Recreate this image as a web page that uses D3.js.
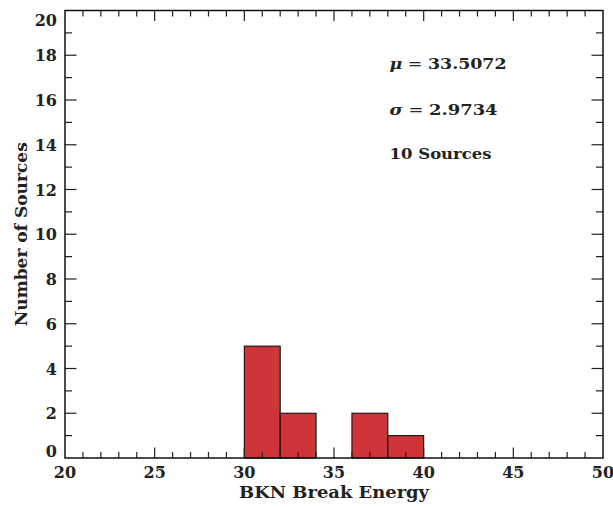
<!DOCTYPE html>
<html>
<head>
<meta charset="utf-8">
<script src="https://cdn.jsdelivr.net/npm/d3@7"></script>
<style>
  html, body { margin: 0; padding: 0; background: #fff; }
  svg { display: block; }
  text { font-family: "DejaVu Serif", "Liberation Serif", serif; font-weight: bold; fill: #222; }
</style>
</head>
<body>
<svg id="chart" width="613" height="507"></svg>
<script>
// Histogram bins of break energy: [start, end) and count
const binStarts = [30, 32, 34, 36, 38];
const binEnds   = [32, 34, 36, 38, 40];
const counts    = [5, 2, 0, 2, 1];

const xMajorTicks = [20, 25, 30, 35, 40, 45, 50];
const yMajorTicks = [0, 2, 4, 6, 8, 10, 12, 14, 16, 18, 20];

const statMean = "33.5072";
const statSigma = "2.9734";
const statCount = "10 Sources";

const W = 613, H = 507;
const margin = { left: 65, right: 10, top: 10.5, bottom: 49 };
const svg = d3.select("#chart");

const x = d3.scaleLinear().domain([20, 50]).range([margin.left, W - margin.right]);
const y = d3.scaleLinear().domain([0, 20]).range([H - margin.bottom, margin.top]);

// bars
svg.append("g").selectAll("rect")
  .data(counts.map((c, i) => ({ x0: binStarts[i], x1: binEnds[i], c })).filter(d => d.c > 0))
  .join("rect")
  .attr("x", d => x(d.x0))
  .attr("y", d => y(d.c))
  .attr("width", d => x(d.x1) - x(d.x0))
  .attr("height", d => y(0) - y(d.c))
  .attr("fill", "#cf3438")
  .attr("stroke", "#111")
  .attr("stroke-width", 1.1);

// inward ticks on all four sides
const ticks = svg.append("g").attr("stroke", "#222").attr("stroke-width", 1.2);
const xMinor = d3.range(20, 50.001, 1);
const yMinor = d3.range(0, 20.001, 1);
xMinor.forEach(v => {
  const major = v % 5 === 0;
  const len = major ? 10.5 : 6;
  if (v === 20 || v === 50) return;
  ticks.append("line").attr("x1", x(v)).attr("x2", x(v)).attr("y1", y(0)).attr("y2", y(0) - len);
  ticks.append("line").attr("x1", x(v)).attr("x2", x(v)).attr("y1", y(20)).attr("y2", y(20) + len);
});
yMinor.forEach(v => {
  const major = v % 2 === 0;
  const len = major ? 11.5 : 7;
  if (v === 0 || v === 20) return;
  ticks.append("line").attr("x1", x(20)).attr("x2", x(20) + len).attr("y1", y(v)).attr("y2", y(v));
  ticks.append("line").attr("x1", x(50)).attr("x2", x(50) - len).attr("y1", y(v)).attr("y2", y(v));
});

// frame
svg.append("rect")
  .attr("x", x(20)).attr("y", y(20))
  .attr("width", x(50) - x(20)).attr("height", y(0) - y(20))
  .attr("fill", "none").attr("stroke", "#111").attr("stroke-width", 1.5);

// tick labels
svg.append("g").selectAll("text").data(xMajorTicks).join("text")
  .attr("x", d => x(d)).attr("y", y(0) + 19.5)
  .attr("text-anchor", "middle").attr("font-size", 16)
  .text(d => d);

svg.append("g").selectAll("text").data(yMajorTicks).join("text")
  .attr("x", x(20) - 8)
  .attr("y", d => d === 20 ? y(d) + 15 : d === 0 ? y(d) - 1 : y(d) + 6)
  .attr("text-anchor", "end").attr("font-size", 16)
  .text(d => d);

// axis titles
svg.append("text")
  .attr("x", (x(20) + x(50)) / 2).attr("y", 498)
  .attr("text-anchor", "middle").attr("font-size", 17)
  .attr("textLength", 190).attr("lengthAdjust", "spacingAndGlyphs")
  .text("BKN Break Energy");

svg.append("text")
  .attr("transform", `translate(27,${(y(0) + y(20)) / 2}) rotate(-90)`)
  .attr("text-anchor", "middle").attr("font-size", 17)
  .attr("textLength", 184).attr("lengthAdjust", "spacingAndGlyphs")
  .text("Number of Sources");

// statistics
const stats = svg.append("g").attr("font-size", 15);
const t1 = stats.append("text").attr("x", x(38.1)).attr("y", y(17.4))
  .attr("textLength", 117).attr("lengthAdjust", "spacingAndGlyphs");
t1.append("tspan").attr("font-style", "italic").text("μ");
t1.append("tspan").attr("font-weight", "normal").text(" = ");
t1.append("tspan").text(statMean);
const t2 = stats.append("text").attr("x", x(38.1)).attr("y", y(15.35))
  .attr("textLength", 108).attr("lengthAdjust", "spacingAndGlyphs");
t2.append("tspan").attr("font-style", "italic").text("σ");
t2.append("tspan").attr("font-weight", "normal").text(" = ");
t2.append("tspan").text(statSigma);
stats.append("text").attr("x", x(38.1)).attr("y", y(13.35))
  .attr("textLength", 102).attr("lengthAdjust", "spacingAndGlyphs")
  .text(statCount);
</script>
</body>
</html>
